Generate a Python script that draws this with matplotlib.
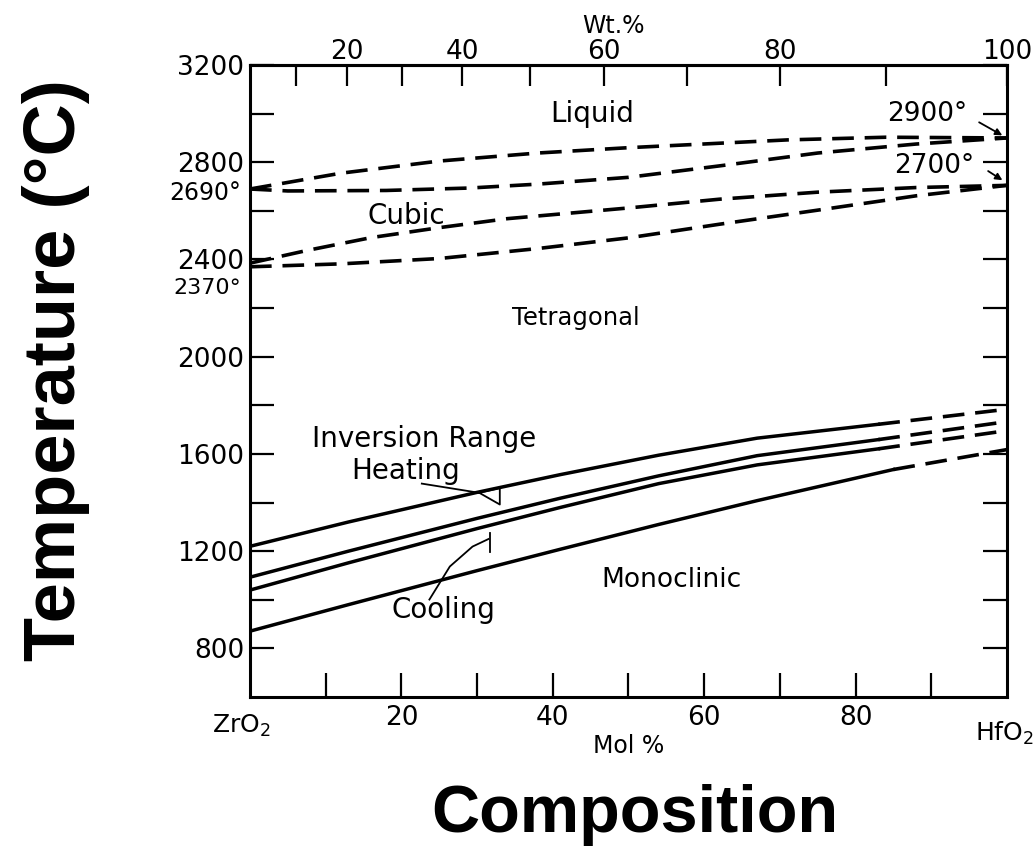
import numpy as np
import matplotlib
matplotlib.use("Agg")
import matplotlib.pyplot as plt

# phase boundaries, ZrO2-HfO2 (x in mol % HfO2, T in deg C)
liq_x = [0, 12, 25, 38, 50, 71, 84, 100]
liq_t = [2690, 2755, 2805, 2838, 2860, 2892, 2903, 2900]
sol_x = [0, 5, 18, 29, 38, 50, 62, 75, 88, 100]
sol_t = [2690, 2682, 2684, 2694, 2710, 2738, 2785, 2838, 2875, 2900]
cub_hi_x = [0, 7.5, 16, 25, 34, 50, 62, 75, 88, 100]
cub_hi_t = [2385, 2437, 2490, 2531, 2568, 2612, 2648, 2677, 2696, 2705]
cub_lo_x = [0, 12, 25, 38, 50, 62, 75, 88, 100]
cub_lo_t = [2370, 2382, 2404, 2445, 2489, 2545, 2603, 2662, 2705]

# inversion range curves (solid part, then dashed extrapolation)
inv_x = [0, 13, 30, 41, 54, 67, 83]
heat_top = [1220, 1320, 1442, 1515, 1595, 1665, 1722]
heat_bot = [1093, 1200, 1335, 1418, 1510, 1593, 1659]
cool_top = [1040, 1152, 1293, 1380, 1478, 1555, 1621]
cool_bot_x = [0, 13, 30, 41, 54, 67, 85]
cool_bot = [871, 980, 1120, 1208, 1310, 1408, 1536]
ext_end = [1784, 1733, 1696, 1618]

y_major = [800, 1200, 1600, 2000, 2400, 2800, 3200]
y_minor = [1000, 1400, 1800, 2200, 2600, 3000]
mol_labels = [20, 40, 60, 80]
wt_ticks = [10, 20, 30, 40, 50, 60, 70, 80, 90, 100]
wt_labels = ["", "20", "", "40", "", "60", "", "80", "", "100"]

M_ZR = 123.22
M_HF = 210.49


def wt_to_mol(w):
    w = np.asarray(w, dtype=float)
    a = w / M_HF
    b = (100 - w) / M_ZR
    return 100 * a / (a + b)


def mol_to_wt(x):
    x = np.asarray(x, dtype=float)
    a = x * M_HF
    b = (100 - x) * M_ZR
    return 100 * a / (a + b)


fig = plt.figure(figsize=(10.36, 8.49), dpi=100)
ax = fig.add_axes([0.2413, 0.179, 0.7307, 0.7444])
ax.set_xlim(0, 100)
ax.set_ylim(600, 3200)

dash = dict(color="black", lw=2.6, dashes=(6, 3))
ax.plot(liq_x, liq_t, **dash)
ax.plot(sol_x, sol_t, **dash)
ax.plot(cub_hi_x, cub_hi_t, **dash)
ax.plot(cub_lo_x, cub_lo_t, **dash)

solid = dict(color="black", lw=2.5)
curves = [(inv_x, heat_top), (inv_x, heat_bot), (inv_x, cool_top), (cool_bot_x, cool_bot)]
for (cx, ct), end in zip(curves, ext_end):
    ax.plot(cx, ct, **solid)
    ax.plot([cx[-1], 100], [ct[-1], end], **dash)

# brackets for the inversion range
ax.plot([22.7, 30.3], [1478, 1440], color="black", lw=1.3)
ax.plot([30.3, 33.0, 33.0, 30.3], [1440, 1460, 1392, 1440], color="black", lw=1.3)
ax.plot([23.7, 26.4, 29.4, 31.5], [1001, 1137, 1219, 1250], color="black", lw=1.3)
ax.plot([31.7, 31.7], [1195, 1275], color="black", lw=1.3)

# ticks
ax.set_yticks(y_major)
ax.set_yticks(y_minor, minor=True)
ax.set_yticklabels([str(v) for v in y_major], fontsize=19)
ax.set_xticks(mol_labels)
ax.set_xticks([10, 30, 50, 70, 90], minor=True)
ax.set_xticklabels([str(v) for v in mol_labels], fontsize=19)
ax.tick_params(which="both", direction="in", length=17, width=1.6,
               right=True, pad=4)
ax.tick_params(axis="x", pad=6)
for s in ax.spines.values():
    s.set_linewidth(2.2)

top = ax.secondary_xaxis("top", functions=(mol_to_wt, wt_to_mol))
top.set_xticks(wt_ticks)
top.set_xticklabels(wt_labels, fontsize=19)
top.tick_params(direction="in", length=15, width=1.6, pad=0)
top.spines["top"].set_linewidth(2.2)

# region labels
lab = dict(fontsize=20, ha="center", va="center")
ax.text(45.2, 3000, "Liquid", **lab)
ax.text(20.6, 2580, "Cubic", **lab)
ax.text(43, 2160, "Tetragonal", fontsize=17.5, ha="center", va="center")
ax.text(23.0, 1660, "Inversion Range", **lab)
ax.text(20.5, 1530, "Heating", **lab)
ax.text(25.6, 960, "Cooling", **lab)
ax.text(55.7, 1080, "Monoclinic", fontsize=19, ha="center", va="center")
ax.text(89.5, 3000, "2900°", fontsize=19, ha="center", va="center")
ax.text(90.4, 2785, "2700°", fontsize=19, ha="center", va="center")
ax.annotate("", xy=(99.7, 2905), xytext=(96.0, 2970),
            arrowprops=dict(arrowstyle="-|>", color="black", lw=1.3, mutation_scale=10))
ax.annotate("", xy=(99.7, 2720), xytext=(97.2, 2770),
            arrowprops=dict(arrowstyle="-|>", color="black", lw=1.3, mutation_scale=10))

trans = ax.get_yaxis_transform()
ax.text(-0.012, 2672, "2690°", transform=trans, fontsize=17, ha="right", va="center")
ax.text(-0.012, 2282, "2370°", transform=trans, fontsize=16, ha="right", va="center")

ax.text(-0.012, -0.045, "ZrO$_2$", transform=ax.transAxes, fontsize=18, ha="center", va="center")
ax.text(0.997, -0.058, "HfO$_2$", transform=ax.transAxes, fontsize=18, ha="center", va="center")
ax.text(0.5, -0.077, "Mol %", transform=ax.transAxes, fontsize=17, ha="center", va="center")
ax.text(0.48, 1.062, "Wt.%", transform=ax.transAxes, fontsize=17, ha="center", va="center")

fig.text(0.054, 0.564, "Temperature (°C)", rotation=90, fontsize=52,
         fontweight="bold", family="Liberation Sans", ha="center", va="center")
fig.text(0.613, 0.04, "Composition", fontsize=48, fontweight="bold",
         family="Liberation Sans", ha="center", va="center")

fig.savefig("out.png", dpi=100)
